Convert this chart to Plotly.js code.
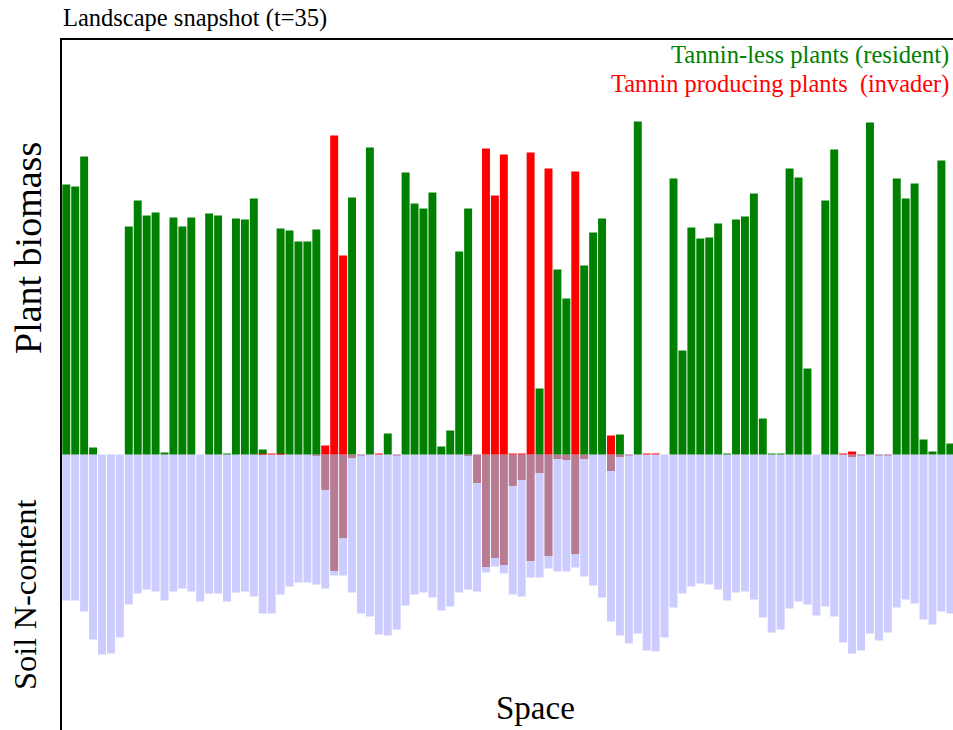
<!DOCTYPE html>
<html>
<head>
<meta charset="utf-8">
<script src="https://cdn.plot.ly/plotly-3.0.1.min.js"></script>
<style>html,body{margin:0;padding:0;background:#fff;}#chart{width:953px;height:730px;}</style>
</head>
<body>
<div id="chart"></div>
<script>
// Landscape cells (space index)
const cells = Array.from({length: 100}, (_, i) => i);

// Tannin-less plants (resident) biomass
const residentBiomass = [
  2.70, 2.68, 2.98, 0.07, 0, 0, 0, 2.28, 2.54, 2.39,
  2.42, 0.02, 2.37, 2.28, 2.37, 0, 2.41, 2.39, 0.01, 2.36,
  2.35, 2.56, 0.05, 0, 2.26, 2.24, 2.13, 2.13, 2.25, 0,
  0, 0, 2.57, 0, 3.07, 0, 0.21, 0, 2.82, 2.51,
  2.46, 2.62, 0.08, 0.24, 2.03, 2.46, 0, 0, 0, 0,
  0, 0, 0, 0.66, 0, 1.85, 1.56, 0, 1.89, 2.22,
  2.36, 0, 0.20, 0, 3.33, 0, 0, 0, 2.76, 1.04,
  2.27, 2.16, 2.17, 2.31, 0.01, 2.35, 2.38, 2.61, 0.36, 0.01,
  0.01, 2.86, 2.77, 0.86, 0, 2.54, 3.05, 0, 0, 0,
  3.32, 0, 0, 2.76, 2.56, 2.71, 0.15, 0.03, 2.94, 0.11
];

// Tannin producing plants (invader) biomass
const invaderBiomass = [
  0, 0, 0, 0, 0, 0, 0, 0, 0, 0,
  0, 0, 0, 0, 0, 0, 0, 0, 0, 0,
  0, 0, 0.01, 0.01, 0.01, 0, 0, 0, 0, 0.09,
  3.19, 1.99, 0, 0, 0, 0.01, 0, 0, 0, 0,
  0, 0, 0, 0, 0, 0, 0, 3.06, 2.59, 3.00,
  0.01, 0.01, 3.02, 0, 2.86, 0, 0, 2.83, 0, 0,
  0, 0.19, 0, 0, 0, 0.01, 0.01, 0, 0, 0,
  0, 0, 0, 0, 0, 0, 0, 0, 0, 0,
  0, 0, 0, 0, 0, 0, 0, 0.01, 0.03, 0,
  0, 0, 0, 0, 0, 0, 0, 0, 0, 0
];

// Soil N-content (total, drawn downward)
const soilN = [
  1.46, 1.46, 1.57, 1.85, 2.00, 1.99, 1.83, 1.50, 1.39, 1.35,
  1.37, 1.46, 1.37, 1.34, 1.37, 1.47, 1.39, 1.39, 1.47, 1.38,
  1.37, 1.42, 1.59, 1.59, 1.40, 1.32, 1.28, 1.28, 1.30, 1.34,
  1.21, 1.21, 1.38, 1.59, 1.62, 1.80, 1.81, 1.75, 1.51, 1.40,
  1.38, 1.43, 1.56, 1.52, 1.38, 1.35, 1.37, 1.18, 1.12, 1.19,
  1.40, 1.42, 1.23, 1.23, 1.14, 1.17, 1.17, 1.13, 1.22, 1.31,
  1.43, 1.67, 1.81, 1.89, 1.79, 1.96, 1.97, 1.83, 1.53, 1.39,
  1.32, 1.29, 1.30, 1.35, 1.46, 1.38, 1.37, 1.45, 1.63, 1.78,
  1.75, 1.54, 1.47, 1.50, 1.61, 1.52, 1.62, 1.88, 1.99, 1.96,
  1.79, 1.86, 1.78, 1.53, 1.45, 1.49, 1.65, 1.70, 1.57, 1.59
];

// Tannin-bound part of soil N (drawn downward, over soil N)
const soilTannin = [
  0, 0, 0, 0, 0, 0, 0, 0, 0, 0,
  0, 0, 0, 0, 0, 0, 0, 0, 0, 0,
  0, 0, 0, 0, 0, 0, 0, 0, 0.013, 0.355,
  1.165, 0.835, 0.035, 0.01, 0, 0, 0, 0.01, 0, 0,
  0, 0, 0, 0, 0, 0.013, 0.285, 1.125, 1.035, 1.105,
  0.315, 0.255, 1.065, 0.185, 1.015, 0.045, 0.055, 0.995, 0.045, 0,
  0, 0.165, 0.025, 0.01, 0, 0, 0, 0, 0, 0,
  0, 0, 0, 0, 0, 0, 0, 0, 0, 0,
  0, 0, 0, 0, 0, 0, 0, 0, 0.025, 0.01,
  0, 0.01, 0.01, 0, 0, 0, 0, 0, 0, 0
];

const titleText = 'Landscape snapshot (t=35)';
const residentLabel = 'Tannin-less plants (resident)';
const invaderLabel = 'Tannin producing plants\u00a0 (invader)';
const SERIF = '"Liberation Serif", "DejaVu Serif", serif';

const traces = [
  {type: 'bar', x: cells, y: soilN.map(v => -v), marker: {color: '#ccccff', line: {width: 0}}, hoverinfo: 'skip'},
  {type: 'bar', x: cells, y: soilTannin.map(v => -v), marker: {color: '#b77b92', line: {width: 0}}, hoverinfo: 'skip'},
  {type: 'bar', x: cells, y: residentBiomass, marker: {color: '#008000', line: {width: 0}}, hoverinfo: 'skip'},
  {type: 'bar', x: cells, y: invaderBiomass, marker: {color: '#ff0000', line: {width: 0}}, hoverinfo: 'skip'}
];

const layout = {
  width: 953, height: 730,
  margin: {l: 62, r: 0, t: 40, b: 0, pad: 0},
  paper_bgcolor: '#ffffff', plot_bgcolor: '#ffffff',
  showlegend: false,
  barmode: 'overlay',
  bargap: 0.11,
  xaxis: {range: [-0.48, 99.3], side: 'top', showline: true, linecolor: '#000', linewidth: 2,
          showgrid: false, zeroline: false, ticks: '', showticklabels: false, fixedrange: true},
  yaxis: {range: [-2.755, 4.145], showline: true, linecolor: '#000', linewidth: 2,
          showgrid: false, zeroline: false, ticks: '', showticklabels: false, fixedrange: true},
  annotations: [
    {text: titleText, xref: 'paper', yref: 'paper', x: -1 / 891, y: (730 - 18) / 690, xanchor: 'left', yanchor: 'middle',
     showarrow: false, font: {family: SERIF, size: 24.5, color: '#000'}},
    {text: residentLabel, xref: 'paper', yref: 'paper', x: (951 - 62) / 891, y: (730 - 55) / 690, xanchor: 'right', yanchor: 'middle',
     showarrow: false, font: {family: SERIF, size: 24.6, color: '#008000'}},
    {text: invaderLabel, xref: 'paper', yref: 'paper', x: (951 - 62) / 891, y: (730 - 84) / 690, xanchor: 'right', yanchor: 'middle',
     showarrow: false, font: {family: SERIF, size: 24.4, color: '#ff0000'}},
    {text: 'Plant biomass', xref: 'paper', yref: 'paper', x: (28 - 62) / 891, y: (730 - 248) / 690, xanchor: 'center', yanchor: 'middle',
     textangle: -90, showarrow: false, font: {family: SERIF, size: 38, color: '#000'}},
    {text: 'Soil N-content', xref: 'paper', yref: 'paper', x: (25 - 62) / 891, y: (730 - 595) / 690, xanchor: 'center', yanchor: 'middle',
     textangle: -90, showarrow: false, font: {family: SERIF, size: 32.5, color: '#000'}},
    {text: 'Space', xref: 'paper', yref: 'paper', x: (535 - 62) / 891, y: (730 - 708) / 690, xanchor: 'center', yanchor: 'middle',
     showarrow: false, font: {family: SERIF, size: 33, color: '#000'}}
  ]
};

Plotly.newPlot('chart', traces, layout, {displayModeBar: false, staticPlot: true});
</script>
</body>
</html>
